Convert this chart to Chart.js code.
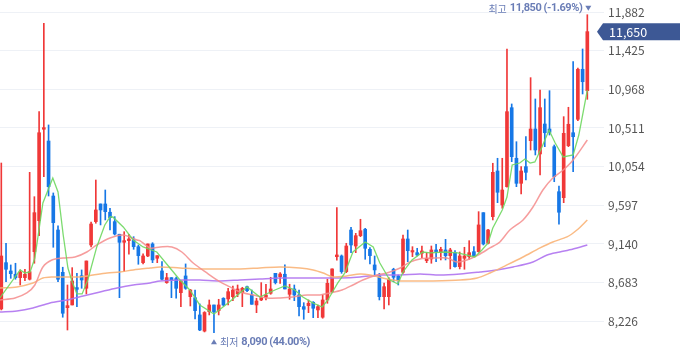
<!DOCTYPE html>
<html><head><meta charset="utf-8">
<script src="https://cdn.jsdelivr.net/npm/chart.js@4.4.1/dist/chart.umd.min.js"></script>
<style>html,body{margin:0;padding:0;background:#fff;}#wrap{width:680px;height:358px;}</style>
</head><body><div id="wrap"><canvas id="c" width="680" height="358"></canvas></div>
<script>
// ---- data ----
const opens = [8372,8919,8821,8782,8742,8742,8723,9049,9415,10496,10357,9707,9305,8805,8387,8419,8624,8765,8616,9128,9404,9613,9613,9515,9404,9255,9160,9179,9187,9108,8919,8998,9140,8971,8821,8683,8742,8730,8564,8762,8517,8505,8301,8110,8340,8419,8352,8498,8490,8517,8549,8564,8635,8537,8419,8478,8510,8557,8793,8753,8782,8545,8608,8537,8399,8411,8451,8360,8274,8478,8576,8990,8998,8813,9305,9116,9238,9314,9077,8892,8762,8517,8517,8841,8762,8805,9199,9045,9037,9030,8943,8963,9069,9042,9069,9002,9037,8872,8971,8990,9049,9049,9510,9148,9463,10003,9601,9817,10751,10153,9857,10054,10361,10499,10204,10558,10499,10290,9758,9687,10302,10455,10614,11205,10952];
const highs = [10097,9148,8892,8912,8833,8841,9987,9699,10704,11749,10547,9743,9353,8865,8655,8860,8793,8833,8939,9400,9896,9613,9778,9562,9463,9255,9285,9255,9226,9128,9022,9140,9155,9002,8931,8793,8742,8750,8703,8904,8604,8596,8431,8340,8478,8419,8486,8505,8616,8643,8655,8628,8643,8596,8498,8683,8664,8746,8793,8801,8892,8664,8655,8596,8446,8478,8458,8419,8537,8723,8845,9569,9010,9148,9337,9266,9432,9325,9096,8998,8793,8679,8742,8853,8773,9246,9305,9108,9089,9116,9037,9116,9136,9101,9195,9089,9061,9045,9101,9179,9108,9522,9510,9314,10094,10153,10153,11445,10795,10349,10054,10408,11106,10854,10960,10854,10952,10310,9825,10645,10756,11295,11220,11445,11850];
const lows = [8360,8694,8734,8723,8655,8706,8714,8912,9238,9935,9707,9101,8694,8274,8123,8419,8399,8616,8549,9104,9385,9365,9424,9305,9246,8505,8813,9018,9077,8900,8904,8990,8919,8919,8714,8675,8505,8498,8399,8604,8407,8254,8115,8100,8301,8090,8301,8407,8419,8470,8517,8399,8576,8427,8328,8470,8478,8545,8667,8675,8608,8486,8470,8289,8250,8328,8269,8269,8262,8439,8564,8949,8793,8801,9037,9037,9226,8959,8904,8762,8478,8372,8419,8694,8655,8793,8931,8990,8998,8978,8919,8912,8931,8951,8951,8845,8865,8845,8841,8959,8986,9042,9128,9140,9424,9628,9562,9810,10113,9817,9731,9896,10251,10192,9956,10290,10428,9876,9373,9628,10290,9995,10597,10913,10850];
const closes = [8998,8841,8789,8742,8809,8782,8813,9510,10455,10515,9817,9392,8723,8321,8411,8703,8604,8714,8939,9376,9542,9542,9522,9451,9258,9160,9179,9199,9108,9002,8998,9140,8951,9002,8723,8742,8714,8616,8703,8616,8596,8352,8123,8330,8419,8340,8419,8419,8576,8596,8608,8616,8588,8427,8466,8505,8537,8608,8683,8785,8608,8608,8537,8399,8368,8439,8380,8399,8478,8675,8845,9010,8813,9116,9128,9238,9297,9089,9002,8833,8517,8635,8723,8746,8706,9199,9061,9061,9010,9057,8971,9069,9049,9077,9002,9069,8872,8998,8998,9037,8998,9365,9140,9305,9987,9751,9778,10704,10172,9857,10003,9987,10499,10251,10751,10455,10460,9935,9515,10448,10555,10408,11205,11058,11650];

// moving averages, read at candle positions (index, value)
const ma5X = [-0.3,4,5,6.1,7.1,8.8,10.9,12,13.1,14.1,15,16,17.1,18.3,20.2,21.9,23,23.6,25.8,27.9,30,32.9,35.7,37.8,39.9,42,45,48,52,54.7,57.9,60,62.1,63.8,65.9,67.9,69.1,71.2,72.7,74.4,77,78.7,80.1,82.2,83.9,85,86.9,89.2,90.7,93.9,96.6,100.2,101.7,103,104,106,107,108.1,109.7,110.8,111.9,112.9,114.4,115.9,117.2,118.9,121,122.2,124];
const ma5 = [8502,8833,8797,8809,8974,9624,9920,9755,9246,8856,8691,8549,8549,8714,9105,9365,9459,9459,9341,9187,9105,9045,8856,8714,8596,8419,8313,8443,8632,8513,8596,8643,8596,8513,8443,8395,8478,8679,8797,9045,9164,9105,8915,8714,8667,8809,8951,9045,9034,9045,9034,8986,9069,9152,9329,9542,9695,10074,10097,10145,10097,10109,10287,10487,10334,10168,10192,10428,10960];
const ma20X = [-0.3,2.9,5.4,7.1,8.8,10.7,13.1,15.6,18.1,20.2,23,25.8,28.7,29.3,31.5,33.6,36.1,38.2,40.6,43.5,46.3,48.4,50.5,53.3,56.2,59,61.7,64.7,67.4,69.6,72.1,74.4,76.5,79.5,81.6,84.4,86.5,88.6,91.3,94.3,96.4,98.5,100.9,103.4,105.5,107.6,110.4,112.5,114.6,116.7,118.9,121,124];
const ma20 = [8478,8502,8561,8655,8868,8951,8974,8986,9045,9128,9211,9246,9187,9180,9093,9105,9105,9045,8915,8797,8691,8632,8573,8537,8502,8502,8513,8537,8537,8561,8596,8655,8714,8773,8797,8856,8927,8963,8974,8974,8927,8951,9010,9093,9164,9305,9424,9577,9778,9920,10015,10133,10369];
const ma60X = [-0.3,3.3,6.7,8.8,10.9,13.9,16.7,19.4,22.4,25.1,27.9,31.5,33.6,37.8,42,46.3,50.5,54.7,59,63.2,66,68.1,70.2,73.1,75.9,78,81.6,84.4,87.1,90.7,97.1,100.7,103.4,107,110.4,114,116.7,119.7,121.8,124];
const ma60 = [8620,8632,8679,8738,8750,8750,8750,8773,8797,8809,8833,8856,8868,8856,8844,8844,8844,8856,8868,8856,8833,8797,8750,8762,8785,8773,8726,8703,8703,8703,8714,8738,8797,8892,8986,9093,9164,9223,9305,9424];
const ma120X = [-0.3,3.3,6.7,10.3,13.9,17.3,20.9,24.5,27.9,31.5,33.6,37.8,42,46.3,50.5,54.7,59,63.2,67.4,71.7,75.9,80.1,84.4,88.6,92.8,97.1,101.3,104.9,108.3,112.5,115.5,118.2,121,124];
const ma120 = [8336,8348,8383,8443,8478,8525,8573,8620,8655,8679,8703,8714,8714,8703,8714,8726,8738,8738,8738,8738,8750,8773,8773,8785,8773,8785,8809,8833,8868,8927,9010,9045,9081,9128];

const yTicks = [8226, 8683, 9140, 9597, 10054, 10511, 10968, 11425, 11882];

// ---- styling ----
const UP = '#f03838', DOWN = '#1677e6';
const FONT = "'Noto Sans CJK KR', 'Noto Sans', sans-serif";
const NUMFONT = "Roboto, 'Noto Sans', sans-serif";
const idx = opens.map((_, i) => i);
const candleColors = idx.map(i => closes[i] >= opens[i] ? UP : DOWN);
const pts = (xs, ys) => xs.map((x, k) => ({x: x, y: ys[k]}));

const annot = {
  id: 'annot',
  afterDraw(chart) {
    const {ctx, scales: {x, y}} = chart;
    const n = closes.length;
    const last = closes[n - 1];
    let hi = 0, lo = 0;
    for (let i = 0; i < n; i++) { if (highs[i] > highs[hi]) hi = i; if (lows[i] < lows[lo]) lo = i; }
    const fmt = v => v.toLocaleString('en-US');
    const hiPct = ((last - highs[hi]) / highs[hi] * 100).toFixed(2);
    const loPct = ((last - lows[lo]) / lows[lo] * 100).toFixed(2);
    const col = '#6a7db6';
    const korFont = '10px ' + FONT;
    const numFont = 'bold 11px ' + NUMFONT;
    const setNum = () => { ctx.font = numFont; ctx.letterSpacing = '-0.45px'; };
    const setKor = () => { ctx.font = korFont; ctx.letterSpacing = '0px'; };
    ctx.save();
    ctx.fillStyle = col;
    ctx.textBaseline = 'middle';
    // top
    const hx = x.getPixelForValue(hi), hy = y.getPixelForValue(highs[hi]) - 6;
    ctx.beginPath();
    ctx.moveTo(hx - 2, hy - 3); ctx.lineTo(hx + 4, hy - 3); ctx.lineTo(hx + 1, hy + 2); ctx.closePath(); ctx.fill();
    ctx.textAlign = 'right';
    setNum();
    const t1 = fmt(highs[hi]) + ' (' + hiPct + '%)';
    ctx.fillText(t1, hx - 5, hy);
    const w1 = ctx.measureText(t1).width;
    setKor();
    ctx.fillText('최고', hx - 8 - w1, hy);
    // bottom
    const lx = x.getPixelForValue(lo), ly = y.getPixelForValue(lows[lo]) + 9;
    ctx.beginPath();
    ctx.moveTo(lx - 3, ly + 2.5); ctx.lineTo(lx + 3, ly + 2.5); ctx.lineTo(lx, ly - 2.5); ctx.closePath(); ctx.fill();
    ctx.textAlign = 'left';
    setKor();
    ctx.fillText('최저', lx + 6, ly);
    const w2 = ctx.measureText('최저').width;
    setNum();
    ctx.fillText(fmt(lows[lo]) + ' (' + loPct + '%)', lx + 9 + w2, ly);
    ctx.letterSpacing = '0px';
    // last price tag
    const py = y.getPixelForValue(last);
    const tip = chart.chartArea.right - 1;
    ctx.fillStyle = '#3d5895';
    ctx.beginPath();
    ctx.moveTo(tip, py); ctx.lineTo(tip + 6, py - 8.5); ctx.lineTo(680, py - 8.5);
    ctx.lineTo(680, py + 8.5); ctx.lineTo(tip + 6, py + 8.5); ctx.closePath(); ctx.fill();
    ctx.fillStyle = '#ffffff';
    ctx.font = '12.5px ' + FONT;
    ctx.textAlign = 'left';
    ctx.fillText(fmt(last), tip + 12, py + 0.5);
    ctx.restore();
  }
};

new Chart(document.getElementById('c'), {
  type: 'bar',
  data: {
    datasets: [
      { type: 'line', label: 'MA5', data: pts(ma5X, ma5), borderColor: 'rgba(110,215,95,0.9)', borderWidth: 1.3, pointRadius: 0, tension: 0, order: 1 },
      { type: 'line', label: 'MA20', data: pts(ma20X, ma20), borderColor: 'rgba(245,140,140,0.85)', borderWidth: 1.5, pointRadius: 0, tension: 0.3, order: 2 },
      { type: 'line', label: 'MA60', data: pts(ma60X, ma60), borderColor: 'rgba(250,180,120,0.9)', borderWidth: 1.5, pointRadius: 0, tension: 0.3, order: 3 },
      { type: 'line', label: 'MA120', data: pts(ma120X, ma120), borderColor: 'rgba(175,115,240,0.9)', borderWidth: 1.5, pointRadius: 0, tension: 0.3, order: 4 },
      { label: 'wick', data: idx.map(i => ({x: i, y: [lows[i], highs[i]]})), backgroundColor: candleColors, barThickness: 1, grouped: false, order: 6 },
      { label: 'body', data: idx.map(i => ({x: i, y: [opens[i], closes[i]]})), backgroundColor: candleColors, barThickness: 3, minBarLength: 1.5, grouped: false, order: 5 }
    ]
  },
  options: {
    responsive: false,
    devicePixelRatio: 1,
    animation: false,
    layout: { padding: 0 },
    plugins: { legend: { display: false }, tooltip: { enabled: false } },
    scales: {
      x: { type: 'linear', display: false, offset: false, min: -0.275, max: 126.26, grid: { display: false } },
      y: {
        position: 'right', min: 7792, max: 12024,
        afterBuildTicks: s => { s.ticks = yTicks.map(v => ({value: v})); },
        afterFit: s => { s.width = 82; s.paddingTop = 0; s.paddingBottom = 0; },
        border: { display: false },
        grid: { color: '#eef1f6', lineWidth: 1, tickLength: 6, drawTicks: true },
        ticks: { color: '#555555', padding: 4, font: { family: FONT, size: 12 }, callback: v => Number(v).toLocaleString('en-US') }
      }
    }
  },
  plugins: [annot]
});
</script>
</body></html>
